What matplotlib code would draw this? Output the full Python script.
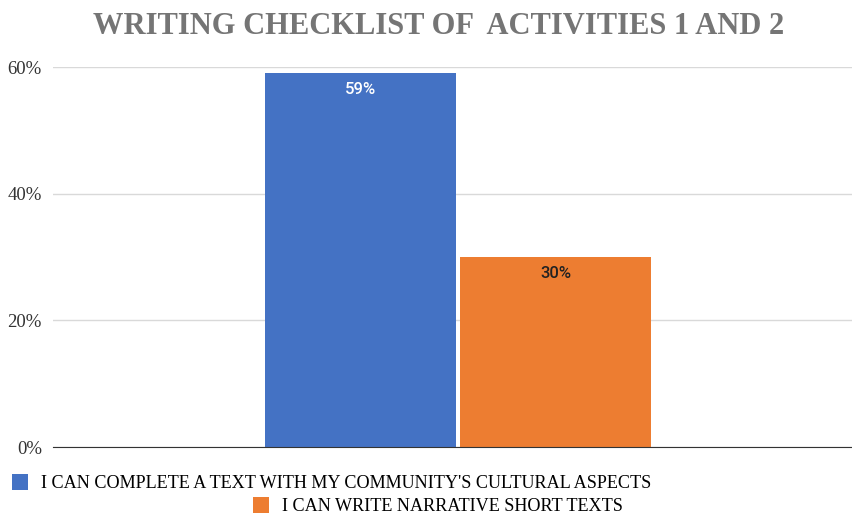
#Bar chart of the writing checklist results
import matplotlib.pyplot as plt	#to plot
from matplotlib.ticker import PercentFormatter

###################################################################
#data
series = ["I CAN COMPLETE A TEXT WITH MY COMMUNITY'S CULTURAL ASPECTS",
          "I CAN WRITE NARRATIVE SHORT TEXTS"]
values = [0.59, 0.30]
labels = ['59%', '30%']
yticks = [0, 0.2, 0.4, 0.6]

colors = ['#4472C4', '#ED7D31']
label_colors = ['white', '#222222']

####################################################
fig = plt.figure(figsize=(8.53, 5.15), dpi=100)
ax = fig.add_axes([53/853, 1-447/515, 800/853, 380/515])

width = 0.239
gap = 0.005
bars = []
for i in range(len(values)):
    x0 = -0.235 + i*(width + gap)
    b = ax.bar(x0, values[i], width=width, align='edge', color=colors[i],
               label=series[i], zorder=3)
    bars.append(b)
    ax.text(x0 + width/2, values[i] - 0.014, labels[i], ha='center', va='top',
            fontsize=12, fontweight='medium', family='Roboto',
            color=label_colors[i], zorder=4)

ax.set_xlim(-0.5, 0.5)
ax.set_ylim(0, 0.6)
ax.set_yticks(yticks)
ax.yaxis.set_major_formatter(PercentFormatter(1.0, decimals=0))
ax.grid(True, axis='y', color='#d9d9d9', linewidth=1, zorder=0)
ax.tick_params(axis='y', length=0, pad=8, labelsize=13.5, labelcolor='#333333')
for t in ax.get_yticklabels():
    t.set_family('Liberation Serif')
ax.set_xticks([])
for s in ['top', 'right', 'left']:
    ax.spines[s].set_visible(False)
ax.spines['bottom'].set_color('#333333')
ax.spines['bottom'].set_zorder(5)

fig.text(0.514, 1-27/515, 'WRITING CHECKLIST OF  ACTIVITIES 1 AND 2',
         ha='center', va='center', fontsize=22, fontweight='bold',
         family='Liberation Serif', color='#757575')

#legend rows
for i, (xl, yl) in enumerate([(12, 474), (253, 497)]):
    fig.legend(handles=[bars[i]], loc='upper left',
               bbox_to_anchor=(xl/853, 1-yl/515), frameon=False,
               prop={'family': 'Liberation Serif', 'size': 13.1},
               handlelength=0.9, handleheight=1.0, handletextpad=0.7,
               borderpad=0, borderaxespad=0)

fig.savefig('out.png', dpi=100)
